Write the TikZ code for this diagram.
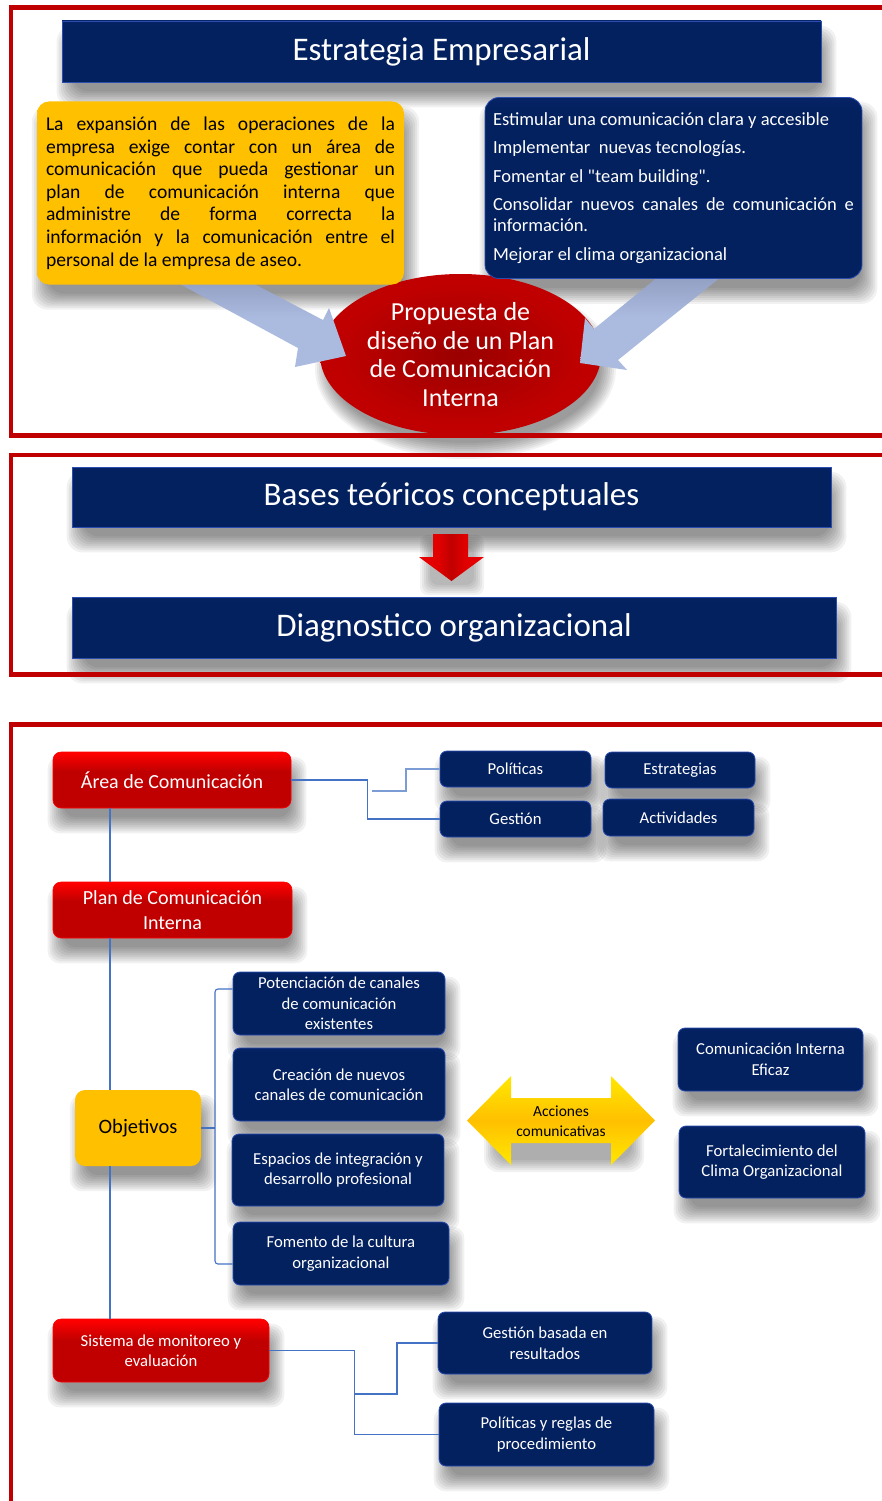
\documentclass[tikz,border=0pt]{standalone}
\usepackage{fontspec}
\setmainfont{Carlito}[Ligatures=TeXOff]
\usetikzlibrary{shapes.geometric}

\definecolor{framered}{HTML}{C00000}
\definecolor{navyD}{HTML}{03205F}
\definecolor{navyL}{HTML}{163690}
\definecolor{navyT}{HTML}{1F42A3}
\definecolor{navyE}{HTML}{2A4DAF}
\definecolor{redB}{HTML}{FF0000}
\definecolor{redM}{HTML}{E00000}
\definecolor{redD}{HTML}{C00000}
\definecolor{redC}{HTML}{9A0000}
\definecolor{yelB}{HTML}{FFFF00}
\definecolor{yelG}{HTML}{FFE000}
\definecolor{yelO}{HTML}{FFC000}
\definecolor{arrowblue}{HTML}{ABBADF}
\definecolor{arrowgrey}{HTML}{707C9E}
\definecolor{linkblue}{HTML}{4472C4}

\pgfdeclareverticalshading{navyshade}{100bp}{color(0bp)=(navyL); color(20bp)=(navyD); color(72bp)=(navyD); color(100bp)=(navyT)}
\pgfdeclareverticalshading{yelshade}{100bp}{color(0bp)=(yelB); color(22bp)=(yelO); color(78bp)=(yelO); color(100bp)=(yelB)}
\pgfdeclareverticalshading{dblshade}{100bp}{color(0bp)=(yelB); color(30bp)=(yelG); color(50bp)=(yelO); color(70bp)=(yelG); color(100bp)=(yelB)}
\pgfdeclareverticalshading{redshade}{100bp}{color(0bp)=(redB); color(12bp)=(redD); color(58bp)=(redD); color(74bp)=(redB); color(100bp)=(redB)}
\pgfdeclarehorizontalshading{redarrowshade}{100bp}{color(0bp)=(redB); color(40bp)=(redM); color(50bp)=(redD); color(60bp)=(redM); color(100bp)=(redB)}
\pgfdeclareradialshading{ellshade}{\pgfpoint{0bp}{0bp}}{color(0bp)=(redC); color(22bp)=(redD); color(42bp)=(redD); color(50bp)=(redB)}
\pgfdeclareverticalshading{wideshade}{100bp}{color(0bp)=(arrowblue); color(52bp)=(arrowblue); color(100bp)=(arrowgrey)}

\pgfdeclarelayer{paper}
\pgfdeclarelayer{shadowlayer}
\pgfsetlayers{paper,shadowlayer,main}

% soft drop shadow under a rectangular node: stacked translucent layers
\newcommand\boxshadow[2][12pt]{%
  \begin{pgfonlayer}{shadowlayer}
    \foreach \e in {0,2,...,16}{%
      \fill[black, opacity=0.055, rounded corners=#1]
        ([xshift=11pt-\e pt, yshift=-9pt-\e pt]#2.south west) rectangle
        ([xshift=\e pt-1pt, yshift=\e pt-21pt]#2.north east);
    }
  \end{pgfonlayer}}

\tikzset{
  bar/.style={rectangle, draw=navyE, line width=0.8pt, shade, shading=navyshade,
    text=white, inner sep=0pt, font=\fontsize{33}{36}\selectfont},
  nbox/.style={rectangle, rounded corners=7pt, draw=navyE, line width=0.8pt, shade, shading=navyshade,
    text=white, align=center, inner sep=2pt, font=\fontsize{16.7}{20.5}\selectfont},
  rbox/.style={rectangle, rounded corners=8pt, draw=redB, line width=0.6pt, shade, shading=redshade,
    text=white, align=center, inner sep=2pt},
  ybox/.style={rectangle, rounded corners=12pt, shade, shading=yelshade, text=black, inner sep=0pt},
  frameline/.style={draw=framered, line width=4.5pt},
  link/.style={draw=linkblue, line width=1.1pt},
  widearrow/.style={shade, shading=wideshade},
}

\begin{document}
\begin{tikzpicture}[x=1pt,y=-1pt]
\useasboundingbox (0,0) rectangle (882,1501);
\clip (0,0) rectangle (882,1501);
\begin{pgfonlayer}{paper}
  \fill[white] (0,0) rectangle (882,1501);
\end{pgfonlayer}

% ---------- frames ----------
\draw[frameline] (900,7.5) -- (11,7.5) -- (11,435.5) -- (900,435.5);
\draw[frameline] (900,455) -- (11,455) -- (11,674.5) -- (900,674.5);
\draw[frameline] (900,724.5) -- (11,724.5) -- (11,1520);

% ---------- block 1: strategy ----------
\node[bar, minimum width=759pt, minimum height=61pt] (estr) at (441.5,51.5) {Estrategia Empresarial};

\node[ellipse, shade, shading=ellshade, minimum width=281pt, minimum height=161pt, inner sep=0pt,
  text=white, align=center, font=\fontsize{26}{28.7}\selectfont] (prop) at (460.5,354.5)
  {Propuesta de\\diseño de un Plan\\de Comunicación\\Interna};
\begin{pgfonlayer}{shadowlayer}
  \foreach \e in {0,2,...,16}{%
    \fill[black, opacity=0.05] ([xshift=5pt, yshift=-14pt]prop.center)
      ellipse [x radius=134.5pt+\e pt, y radius=74.5pt+\e pt];
  }
\end{pgfonlayer}

% wide arrows pointing at the proposal (darkened where the boxes shade them)
\shade[widearrow] (165,276) -- (298,348) -- (295,367) -- (346,356) -- (329,308) -- (323,320) -- (239,276) -- cycle;
\shade[widearrow] (664,272) -- (594,329) -- (585,318) -- (580,363) -- (627,370) -- (618,360) -- (727,272) -- cycle;

\node[ybox, minimum width=367pt, minimum height=183pt, text width=349pt, align=justify,
  font=\fontsize{19.6}{22.6}\selectfont] (need) at (220.5,193)
  {La expansión de las operaciones de la\linebreak empresa exige contar con un área de\linebreak comunicación que pueda gestionar un\linebreak plan de comunicación interna que\linebreak administre de forma correcta la\linebreak información y la comunicación entre el\linebreak personal de la empresa de aseo.};

\node[rectangle, rounded corners=14pt, draw=navyE, line width=0.8pt, shade, shading=navyshade,
  minimum width=377pt, minimum height=181pt, inner xsep=8pt, text width=361pt, align=justify,
  text=white, font=\fontsize{18.5}{21}\selectfont] (goals) at (673.5,188)
  {\parskip=7.5pt Estimular una comunicación clara y accesible\par
   Implementar~ nuevas tecnologías.\par
   Fomentar el "team building".\par
   Consolidar nuevos canales de comunicación e\linebreak información.\par
   Mejorar el clima organizacional};

\boxshadow[16pt]{estr}
\boxshadow[16pt]{need}
\boxshadow[16pt]{goals}

% ---------- block 2: foundations ----------
\node[bar, minimum width=759pt, minimum height=60pt] (bases) at (451.5,497) {Bases teóricos conceptuales};
\node[bar, minimum width=764pt, minimum height=61pt] (diag) at (454,627.5) {Diagnostico organizacional};
\boxshadow[16pt]{bases}
\boxshadow[16pt]{diag}
\begin{pgfonlayer}{shadowlayer}
  \foreach \e in {0,2,...,10}{%
    \fill[black, opacity=0.05, rounded corners=8pt] (430-\e,545-\e) rectangle (474+\e,585+\e);
  }
\end{pgfonlayer}
\shade[shading=redarrowshade] (433,534) -- (468,534) -- (468,557) -- (484,557) -- (451.5,581) -- (419,557) -- (433,557) -- cycle;

% ---------- block 3: communication plan ----------
\node[rbox, minimum width=238pt, minimum height=56pt, font=\fontsize{20}{25}\selectfont] (area) at (172,780) {Área de Comunicación};
\node[rbox, minimum width=239pt, minimum height=56pt, font=\fontsize{20}{25}\selectfont] (plan) at (172.5,910) {Plan de Comunicación\\Interna};
\node[ybox, minimum width=126pt, minimum height=76pt, rounded corners=10pt, font=\fontsize{20.5}{24}\selectfont] (obj) at (138,1128) {Objetivos};
\node[rbox, minimum width=216pt, minimum height=63pt, font=\fontsize{16.7}{19.5}\selectfont] (sis) at (161,1350.5) {Sistema de monitoreo y\\evaluación};

\node[nbox, minimum width=151pt, minimum height=36pt] (pol) at (515.5,769) {Políticas};
\node[nbox, minimum width=150pt, minimum height=36pt] (estg) at (680,770) {Estrategias};
\node[nbox, minimum width=151pt, minimum height=36pt] (gest) at (515.5,819) {Gestión};
\node[nbox, minimum width=151pt, minimum height=37pt] (act) at (678.5,817.5) {Actividades};

\node[nbox, minimum width=212pt, minimum height=63pt] (pot) at (339,1003.5) {Potenciación de canales\\de comunicación\\existentes};
\node[nbox, minimum width=212pt, minimum height=73pt] (cre) at (339,1084.5) {Creación de nuevos\\canales de comunicación};
\node[nbox, minimum width=212pt, minimum height=72pt] (esp) at (338,1170) {Espacios de integración y\\desarrollo profesional};
\node[nbox, minimum width=216pt, minimum height=63pt] (fom) at (341,1253.5) {Fomento de la cultura\\organizacional};

\node[nbox, minimum width=185pt, minimum height=63pt] (cie) at (770.5,1059.5) {Comunicación Interna\\Eficaz};
\node[nbox, minimum width=186pt, minimum height=72pt] (fcl) at (772,1162) {Fortalecimiento del\\Clima Organizacional};

\node[nbox, minimum width=214pt, minimum height=62pt] (gbr) at (545,1343) {Gestión basada en\\resultados};
\node[nbox, minimum width=215pt, minimum height=63pt] (pyr) at (546.5,1434.5) {Políticas y reglas de\\procedimiento};

\foreach \n in {area,plan,obj,sis,pol,estg,gest,act,pot,cre,esp,fom,cie,fcl,gbr,pyr}{\boxshadow{\n}}

% double arrow for the communicative actions
\begin{pgfonlayer}{shadowlayer}
  \foreach \e in {0,2,...,12}{%
    \fill[black, opacity=0.05, rounded corners=14pt] (496-\e,1112-\e) rectangle (632+\e,1160+\e);
  }
\end{pgfonlayer}
\shade[shading=dblshade] (467,1120.5) -- (511,1076) -- (511,1098) -- (611,1098) -- (611,1076) -- (655,1120.5)
  -- (611,1165) -- (611,1143) -- (511,1143) -- (511,1165) -- cycle;
\node[font=\fontsize{15.5}{20}\selectfont, align=center, text=black] (acc) at (561,1121) {Acciones\\comunicativas};

% connectors
\coordinate (spine) at (110,0);
\draw[link] (area.south -| spine) -- (plan.north -| spine);
\draw[link] (plan.south -| spine) -- (obj.north -| spine);
\draw[link] (obj.south -| spine) -- (sis.north -| spine);

\draw[link] (area.east) -- ++(76,0) |- (gest.west);
\coordinate (polfeed) at (372,791);
\draw[link, draw=linkblue!70] (polfeed) -- ++(34,0) |- (pol.west);

\coordinate (braceup) at (215,989);
\coordinate (bracedown) at (215,1264);
\draw[link] (obj.east) -- (obj.east -| braceup);
\draw[link, rounded corners=3pt] (pot.west |- braceup) -- (braceup) -- (bracedown) -- (fom.west |- bracedown);

\draw[link] (sis.east) -- ++(85,0) |- (pyr.west);
\coordinate (gbrfeed) at (354,1394);
\draw[link] (gbrfeed) -- ++(43,0) |- (gbr.west);
\end{tikzpicture}
\end{document}
